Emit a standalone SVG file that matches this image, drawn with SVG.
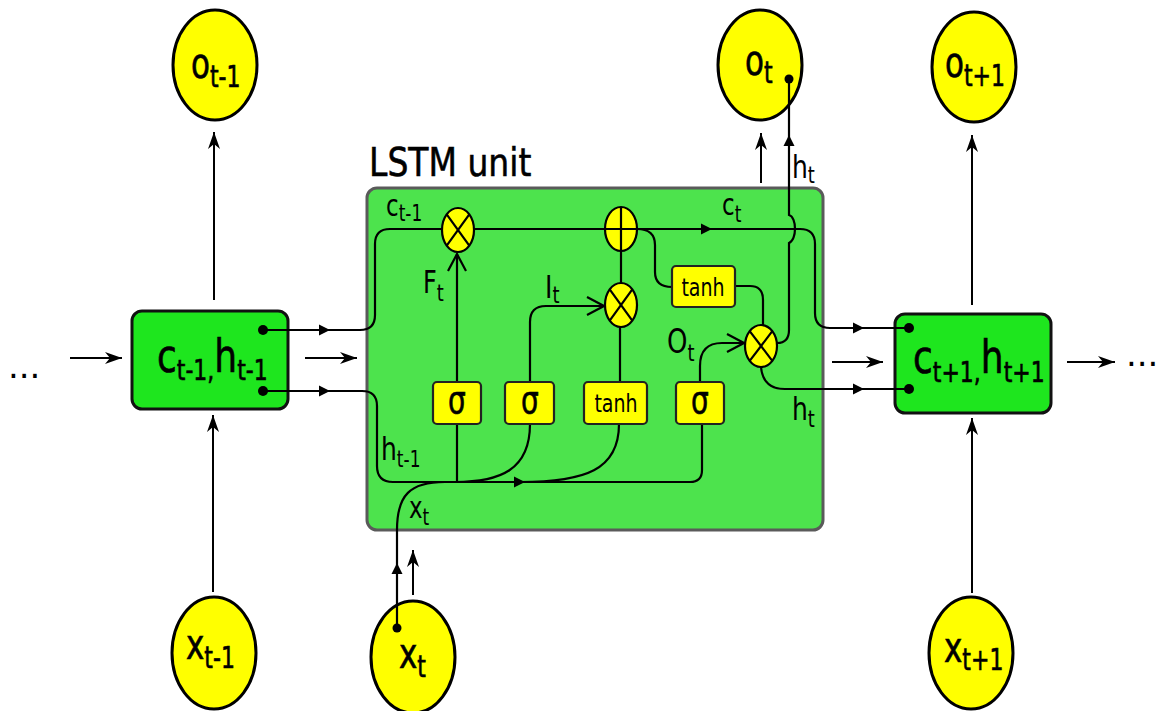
<svg xmlns="http://www.w3.org/2000/svg" xmlns:xlink="http://www.w3.org/1999/xlink" width="1159" height="711" viewBox="0 0 1159 711">
<style>
  text { font-family: "DejaVu Sans", "Liberation Sans", sans-serif; fill: #000; }
  .heavy { stroke: #000; stroke-width: 0.5; }
  .ell { fill: #ffff00; stroke: #000; stroke-width: 3; }
  .gate { fill: #ffff00; stroke: #000; stroke-width: 2.2; }
  .gbox { fill: #ffff00; stroke: #222; stroke-width: 2.2; }
  .big { fill: #1ee61e; stroke: #111; stroke-width: 3; }
  .ln { fill: none; stroke: #000; stroke-width: 2.2; }
  .arr { fill: none; stroke: #000; stroke-width: 2; marker-end: url(#ah); }
  .chev { marker-end: url(#ch); }
  .dot { fill: #000; }
</style>
<defs>
  <marker id="ah" markerUnits="userSpaceOnUse" viewBox="-18 -7 19 14" refX="0" refY="0" markerWidth="19" markerHeight="14" orient="auto">
    <path d="M0,0 L-17,-6 L-12,0 L-17,6 Z" fill="#000"/>
  </marker>
  <marker id="ch" markerUnits="userSpaceOnUse" viewBox="-20 -12 22 24" refX="0" refY="0" markerWidth="22" markerHeight="24" orient="auto">
    <path d="M-17,-9 L0,0 L-17,9" fill="none" stroke="#000" stroke-width="2.2"/>
  </marker>
  <path id="tri" d="M0,0 L-11,-5.5 L-11,5.5 Z" fill="#000"/>
</defs>

<rect width="1159" height="711" fill="#fff"/>

<g id="lstm-unit">
  <rect x="367" y="188" width="456" height="342" rx="10" fill="#4de34d" stroke="#5a5a5a" stroke-width="3"/>
  <text class="heavy" transform="translate(369,176) scale(1,1.19)" font-size="33" stroke-width="0.3">LSTM unit</text>
</g>

<g id="state-prev">
  <rect class="big" x="132" y="311" width="156" height="98" rx="10"/>
  <text class="heavy" transform="translate(157,372) scale(1,1.28)" font-size="36">c<tspan font-size="22" dy="6">t-1,</tspan><tspan font-size="36" dy="-6">h</tspan><tspan font-size="22" dy="6">t-1</tspan></text>
</g>
<g id="state-next">
  <rect class="big" x="895" y="314" width="156" height="99" rx="10"/>
  <text class="heavy" transform="translate(913,373) scale(1,1.28)" font-size="36">c<tspan font-size="22" dy="7">t+1,</tspan><tspan font-size="36" dy="-7">h</tspan><tspan font-size="22" dy="7">t+1</tspan></text>
</g>

<g id="out-prev">
  <ellipse class="ell" cx="215" cy="65" rx="42" ry="55"/>
  <text class="heavy" transform="translate(191,78) scale(1,1.35)" font-size="31">o<tspan font-size="22" dy="6.5">t-1</tspan></text>
</g>
<g id="out-cur">
  <ellipse class="ell" cx="760" cy="65" rx="42" ry="55"/>
  <text class="heavy" transform="translate(745,75) scale(1,1.35)" font-size="31">o<tspan font-size="22" dy="6">t</tspan></text>
</g>
<g id="out-next">
  <ellipse class="ell" cx="974" cy="67" rx="42" ry="55"/>
  <text class="heavy" transform="translate(945,77) scale(1,1.35)" font-size="31">o<tspan font-size="22" dy="7">t+1</tspan></text>
</g>
<g id="in-prev">
  <ellipse class="ell" cx="214" cy="653" rx="42" ry="56"/>
  <text class="heavy" transform="translate(186,659) scale(1,1.35)" font-size="31">x<tspan font-size="22" dy="6.5">t-1</tspan></text>
</g>
<g id="in-cur">
  <ellipse class="ell" cx="413" cy="657" rx="42" ry="56"/>
  <text class="heavy" transform="translate(399,668) scale(1,1.35)" font-size="31">x<tspan font-size="22" dy="6.5">t</tspan></text>
</g>
<g id="in-next">
  <ellipse class="ell" cx="971" cy="653" rx="42" ry="56"/>
  <text class="heavy" transform="translate(944,662) scale(1,1.35)" font-size="31">x<tspan font-size="22" dy="6">t+1</tspan></text>
</g>

<g id="connectors">
  <!-- outer arrows -->
  <path class="arr" d="M214,300 V132"/>
  <path class="arr" d="M761,183 V133"/>
  <path class="arr" d="M972,305 V135"/>
  <path class="arr" d="M213,592 V415"/>
  <path class="arr" d="M972,593 V418"/>
  <path class="arr" d="M413,595 V550"/>
  <path class="arr" d="M70,358 H122"/>
  <path class="arr" d="M305,358 H357"/>
  <path class="arr" d="M832,362 H883"/>
  <path class="arr" d="M1067,362 H1115"/>

  <!-- cell state -->
  <path class="ln" d="M263,330 H360 Q375,330 375,315 V244 Q375,229 390,229 H442"/>
  <path class="ln" d="M474,229 H605"/>
  <path class="ln" d="M637,229 H800 Q815,229 815,244 V313 Q815,328 830,328 H909"/>
  <path class="ln" d="M637,229 Q655,229 655,245 V272 Q655,287 672,287"/>
  <path class="ln" d="M735,286 H750 Q763,286 763,300 V325"/>
  <path class="ln" d="M777,343 Q789,343 789,330 V243 C797,240 797,217 789,215 V79"/>
  <path class="ln" d="M761,367 Q763,389 785,389 H909"/>
  <path class="ln" d="M621,251 V283"/>
  <path class="ln" d="M620,327 V382"/>
  <!-- gates -->
  <path class="ln chev" d="M457,382 V254"/>
  <path class="ln chev" d="M530,382 V322 Q530,306 546,306 H604"/>
  <path class="ln chev" d="M700,382 V366 Q700,343 722,343 H744"/>
  <!-- hidden / input -->
  <path class="ln" d="M263,391 H362 Q377,391 377,406 V466 Q377,482 393,482 H690 Q702,482 702,470 V424"/>
  <path class="ln" d="M457,424 V482"/>
  <path class="ln" d="M530,424 C530,470 500,482 455,482"/>
  <path class="ln" d="M619,424 C619,470 585,482 520,482"/>
  <path class="ln" d="M397,628 V530 C397,495 410,482 445,482"/>

  <!-- mid-line arrowheads -->
  <use xlink:href="#tri" href="#tri" x="330" y="330"/>
  <use xlink:href="#tri" href="#tri" x="330" y="391"/>
  <use xlink:href="#tri" href="#tri" x="712" y="229"/>
  <use xlink:href="#tri" href="#tri" x="525" y="482"/>
  <use xlink:href="#tri" href="#tri" x="864" y="328"/>
  <use xlink:href="#tri" href="#tri" x="864" y="389"/>
  <use xlink:href="#tri" href="#tri" transform="translate(789,135) rotate(-90)"/>
  <use xlink:href="#tri" href="#tri" transform="translate(397,563) rotate(-90)"/>

  <circle class="dot" cx="263" cy="330" r="5"/>
  <circle class="dot" cx="263" cy="391" r="5"/>
  <circle class="dot" cx="909" cy="328" r="5"/>
  <circle class="dot" cx="909" cy="389" r="5"/>
  <circle class="dot" cx="789" cy="79" r="4.5"/>
  <circle class="dot" cx="397" cy="628" r="4.5"/>
</g>

<g id="mul-forget">
  <ellipse class="gate" cx="458" cy="230" rx="16" ry="22"/>
  <path class="ln" d="M446.7,214.4 L469.3,245.6 M469.3,214.4 L446.7,245.6"/>
</g>
<g id="add-cell">
  <ellipse class="gate" cx="621" cy="229" rx="16" ry="22"/>
  <path class="ln" d="M605,229 H637 M621,207 V251"/>
</g>
<g id="mul-input">
  <ellipse class="gate" cx="621" cy="305" rx="16" ry="22"/>
  <path class="ln" d="M609.7,289.4 L632.3,320.6 M632.3,289.4 L609.7,320.6"/>
</g>
<g id="mul-output">
  <ellipse class="gate" cx="761" cy="346" rx="16" ry="21"/>
  <path class="ln" d="M749.7,331.2 L772.3,360.8 M772.3,331.2 L749.7,360.8"/>
</g>

<g id="sigma-forget">
  <rect class="gbox" x="433" y="382" width="48" height="42" rx="4"/>
  <text class="heavy" transform="translate(457,413) scale(1,1.3)" font-size="28" text-anchor="middle">σ</text>
</g>
<g id="sigma-input">
  <rect class="gbox" x="505" y="382" width="49" height="42" rx="4"/>
  <text class="heavy" transform="translate(530,413) scale(1,1.3)" font-size="28" text-anchor="middle">σ</text>
</g>
<g id="tanh-input">
  <rect class="gbox" x="584" y="382" width="63" height="42" rx="4"/>
  <text transform="translate(616,412) scale(1,1.3)" font-size="19" text-anchor="middle">tanh</text>
</g>
<g id="sigma-output">
  <rect class="gbox" x="676" y="382" width="48" height="42" rx="4"/>
  <text class="heavy" transform="translate(700,413) scale(1,1.3)" font-size="28" text-anchor="middle">σ</text>
</g>
<g id="tanh-cell">
  <rect class="gbox" x="672" y="266" width="63" height="41" rx="4"/>
  <text transform="translate(703,296) scale(1,1.3)" font-size="19" text-anchor="middle">tanh</text>
</g>

<g id="labels">
  <text transform="translate(386,216) scale(1,1.3)" font-size="23">c<tspan font-size="17" dy="4">t-1</tspan></text>
  <text transform="translate(722,215) scale(1,1.3)" font-size="23">c<tspan font-size="17" dy="5">t</tspan></text>
  <text transform="translate(381,460) scale(1,1.3)" font-size="25">h<tspan font-size="17" dy="5">t-1</tspan></text>
  <text transform="translate(792,420) scale(1,1.3)" font-size="25">h<tspan font-size="18" dy="5">t</tspan></text>
  <text transform="translate(792,178) scale(1,1.3)" font-size="25">h<tspan font-size="18" dy="4">t</tspan></text>
  <text transform="translate(409,518) scale(1,1.3)" font-size="23">x<tspan font-size="17" dy="5">t</tspan></text>
  <text transform="translate(423,293) scale(1,1.3)" font-size="24">F<tspan font-size="18" dy="6">t</tspan></text>
  <text transform="translate(545,298) scale(1,1.3)" font-size="25">I<tspan font-size="18" dy="4">t</tspan></text>
  <text transform="translate(667,353) scale(1,1.3)" font-size="26">O<tspan font-size="18" dy="6">t</tspan></text>
  <text x="8" y="378" font-size="34">...</text>
  <text x="1126" y="366" font-size="34">...</text>
</g>
</svg>
